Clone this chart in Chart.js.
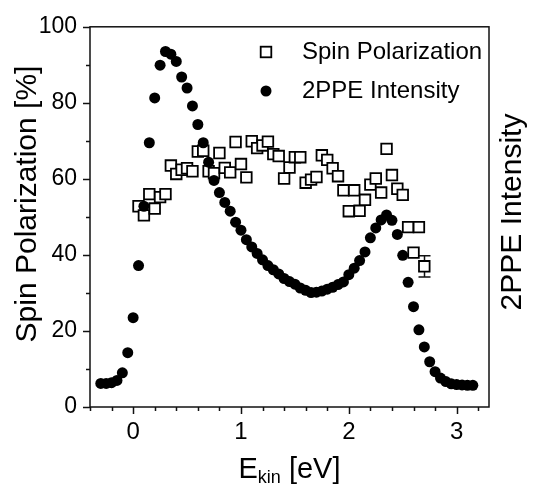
<!DOCTYPE html>
<html>
<head>
<meta charset="utf-8">
<title>Spin Polarization / 2PPE Intensity</title>
<script src="https://cdn.jsdelivr.net/npm/chart.js@4.4.1/dist/chart.umd.min.js"></script>
<style>
  html, body { margin: 0; padding: 0; background: #fff; }
  canvas { display: block; }
</style>
</head>
<body>
<canvas id="spinChart" width="541" height="484"></canvas>
<script>
// 2PPE intensity (filled circles), drawn on the same 0-100 scale
const intensityEnergy = [-0.30, -0.25, -0.20, -0.15, -0.10, -0.05, 0.00, 0.05, 0.10, 0.15,
  0.20, 0.25, 0.30, 0.35, 0.40, 0.45, 0.50, 0.55, 0.60, 0.65,
  0.70, 0.75, 0.80, 0.85, 0.90, 0.95, 1.00, 1.05, 1.10, 1.15,
  1.20, 1.25, 1.30, 1.35, 1.40, 1.45, 1.50, 1.55, 1.60, 1.65,
  1.70, 1.75, 1.80, 1.85, 1.90, 1.95, 2.00, 2.05, 2.10, 2.15,
  2.20, 2.25, 2.30, 2.35, 2.40, 2.45, 2.50, 2.55, 2.60, 2.65,
  2.70, 2.75, 2.80, 2.85, 2.90, 2.95, 3.00, 3.05, 3.10, 3.15];
const intensity = [6.2, 6.2, 6.4, 7.0, 9.0, 14.3, 23.5, 37.2, 52.8, 69.5,
  81.3, 89.9, 93.5, 92.8, 90.9, 86.8, 83.9, 79.2, 74.3, 69.5,
  64.4, 59.6, 56.4, 53.8, 51.5, 48.6, 46.5, 44.0, 42.1, 40.4,
  38.7, 37.2, 36.1, 35.0, 33.8, 33.0, 32.3, 31.3, 30.7, 30.1,
  30.2, 30.5, 31.0, 31.5, 32.2, 32.9, 34.8, 36.5, 38.5, 40.8,
  44.5, 47.1, 49.2, 50.5, 49.1, 45.4, 39.9, 32.8, 26.4, 20.3,
  15.8, 11.9, 9.3, 7.6, 6.7, 6.1, 5.9, 5.8, 5.7, 5.7];

// spin polarization (open squares)
const spinEnergy = [0.05, 0.10, 0.15, 0.20, 0.25, 0.30, 0.35, 0.40, 0.45, 0.50,
  0.55, 0.60, 0.65, 0.70, 0.75, 0.80, 0.85, 0.90, 0.95, 1.00,
  1.05, 1.10, 1.15, 1.20, 1.25, 1.30, 1.35, 1.40, 1.45, 1.50,
  1.55, 1.60, 1.65, 1.70, 1.75, 1.80, 1.85, 1.90, 1.95, 2.00,
  2.05, 2.10, 2.15, 2.20, 2.25, 2.30, 2.35, 2.40, 2.45, 2.50,
  2.55, 2.60, 2.65, 2.70];
const spinPolarization = [52.8, 50.4, 56.0, 52.2, 55.2, 56.0, 63.5, 61.3, 62.4, 62.8,
  62.0, 67.2, 67.4, 62.0, 61.5, 66.8, 62.9, 61.7, 69.7, 63.9,
  60.4, 69.9, 68.1, 68.8, 69.8, 66.5, 66.0, 60.1, 63.0, 65.7,
  65.7, 59.0, 59.8, 60.5, 66.2, 65.0, 62.8, 60.7, 57.0, 51.5,
  57.0, 51.6, 54.5, 58.5, 60.1, 56.4, 67.9, 61.0, 57.4, 55.8,
  47.3, 40.6, 47.3, 37.0];

// only the last spin point carries an error bar
const errorBarIndex = [53];
const errorBarHalf = [2.8];

const xTickLabels = [0, 1, 2, 3];
const yTickLabels = [0, 20, 40, 60, 80, 100];
const xLimits = [-0.4, 3.3];
const yLimits = [0, 100];
const xMinorStep = 0.2;
const yMinorStep = 10;

const legendLabels = ['Spin Polarization', '2PPE Intensity'];

const fontFamily = '"Liberation Sans", Arial, Helvetica, sans-serif';

function toPoints(xs, ys) {
  return xs.map((x, i) => ({ x: x, y: ys[i] }));
}

// frame, outward ticks, error bar, titles and legend
const decorPlugin = {
  id: 'decor',
  beforeDatasetsDraw(chart) {
    const { ctx, chartArea: a, scales: { x, y } } = chart;
    ctx.save();
    ctx.strokeStyle = '#111';
    ctx.lineWidth = 1.5;
    ctx.strokeRect(a.left, a.top, a.right - a.left, a.bottom - a.top);

    ctx.beginPath();
    for (let k = 0; ; k++) {
      const v = xLimits[0] + k * xMinorStep;
      if (v > xLimits[1] + 1e-9) break;
      const major = Math.abs(v - Math.round(v)) < 1e-6;
      const px = Math.round(x.getPixelForValue(v)) + 0.5;
      ctx.moveTo(px, a.bottom);
      ctx.lineTo(px, a.bottom + (major ? 7 : 4));
    }
    for (let v = yLimits[0]; v <= yLimits[1]; v += yMinorStep) {
      const major = yTickLabels.includes(v);
      const py = Math.round(y.getPixelForValue(v)) + 0.5;
      ctx.moveTo(a.left, py);
      ctx.lineTo(a.left - (major ? 7 : 4), py);
    }
    ctx.stroke();

    // x tick labels
    ctx.fillStyle = '#000';
    ctx.font = '24px ' + fontFamily;
    ctx.textAlign = 'center';
    ctx.textBaseline = 'alphabetic';
    xTickLabels.forEach(v => {
      ctx.fillText(String(v), x.getPixelForValue(v), a.bottom + 32);
    });

    // error bars
    ctx.lineWidth = 1.5;
    ctx.beginPath();
    errorBarIndex.forEach((idx, j) => {
      const px = Math.round(x.getPixelForValue(spinEnergy[idx])) + 0.5;
      const hi = y.getPixelForValue(spinPolarization[idx] + errorBarHalf[j]);
      const lo = y.getPixelForValue(spinPolarization[idx] - errorBarHalf[j]);
      ctx.moveTo(px, hi); ctx.lineTo(px, lo);
      ctx.moveTo(px - 6, hi); ctx.lineTo(px + 6, hi);
      ctx.moveTo(px - 6, lo); ctx.lineTo(px + 6, lo);
    });
    ctx.stroke();
    ctx.restore();
  },
  afterDraw(chart) {
    const { ctx, chartArea: a } = chart;
    ctx.save();
    ctx.fillStyle = '#000';

    // left title
    ctx.font = '30px ' + fontFamily;
    ctx.textAlign = 'center';
    ctx.textBaseline = 'middle';
    ctx.save();
    ctx.translate(28, 204);
    ctx.rotate(-Math.PI / 2);
    ctx.fillText('Spin Polarization [%]', 0, 0);
    ctx.restore();

    // right title
    ctx.save();
    ctx.translate(513, 212);
    ctx.rotate(-Math.PI / 2);
    ctx.fillText('2PPE Intensity', 0, 0);
    ctx.restore();

    // bottom title with subscript
    const big = '29px ' + fontFamily;
    const small = '18px ' + fontFamily;
    ctx.textAlign = 'left';
    ctx.textBaseline = 'alphabetic';
    ctx.font = big;
    const wE = ctx.measureText('E').width;
    const wUnit = ctx.measureText(' [eV]').width;
    ctx.font = small;
    const wSub = ctx.measureText('kin').width;
    let tx = (a.left + a.right) / 2 - (wE + wSub + wUnit) / 2;
    const base = 478;
    ctx.font = big;
    ctx.fillText('E', tx, base);
    tx += wE;
    ctx.font = small;
    ctx.fillText('kin', tx, base + 5);
    tx += wSub;
    ctx.font = big;
    ctx.fillText(' [eV]', tx, base);

    // legend
    const mx = a.left + 176;
    const tx0 = a.left + 212;
    const rows = [52, 91];
    ctx.font = '24px ' + fontFamily;
    ctx.textBaseline = 'middle';
    ctx.fillText(legendLabels[0], tx0, rows[0]);
    ctx.fillText(legendLabels[1], tx0, rows[1]);
    ctx.fillStyle = '#fff';
    ctx.strokeStyle = '#000';
    ctx.lineWidth = 1.8;
    ctx.fillRect(mx - 5.3, rows[0] - 5.3, 10.6, 10.6);
    ctx.strokeRect(mx - 5.3, rows[0] - 5.3, 10.6, 10.6);
    ctx.fillStyle = '#000';
    ctx.beginPath();
    ctx.arc(mx, rows[1], 5.5, 0, Math.PI * 2);
    ctx.fill();
    ctx.restore();
  }
};

const ctx = document.getElementById('spinChart');
window.spinChart = new Chart(ctx, {
  type: 'scatter',
  data: {
    datasets: [
      {
        label: legendLabels[0],
        data: toPoints(spinEnergy, spinPolarization),
        pointStyle: 'rect',
        pointRadius: 7.5,
        pointBackgroundColor: '#fff',
        pointBorderColor: '#000',
        pointBorderWidth: 1.8,
        order: 1
      },
      {
        label: legendLabels[1],
        data: toPoints(intensityEnergy, intensity),
        pointStyle: 'circle',
        pointRadius: 5.5,
        pointBackgroundColor: '#000',
        pointBorderColor: '#000',
        pointBorderWidth: 0,
        order: 0
      }
    ]
  },
  options: {
    responsive: false,
    animation: false,
    devicePixelRatio: 1,
    layout: { padding: { top: 20, right: 52, left: 0, bottom: 0 } },
    plugins: {
      legend: { display: false },
      tooltip: { enabled: false }
    },
    scales: {
      x: {
        type: 'linear',
        min: xLimits[0],
        max: xLimits[1],
        afterFit(scale) { scale.height = 77; },
        grid: { display: false, drawTicks: false },
        border: { display: false },
        ticks: { display: false }
      },
      y: {
        min: yLimits[0],
        max: yLimits[1],
        afterFit(scale) { scale.width = 90; },
        grid: { display: false, drawTicks: false },
        border: { display: false },
        ticks: {
          stepSize: 20,
          padding: 13,
          color: '#000',
          font: { family: fontFamily, size: 23 },
          callback: v => (yTickLabels.includes(v) ? String(v) : '')
        }
      }
    }
  },
  plugins: [decorPlugin]
});
</script>
</body>
</html>
